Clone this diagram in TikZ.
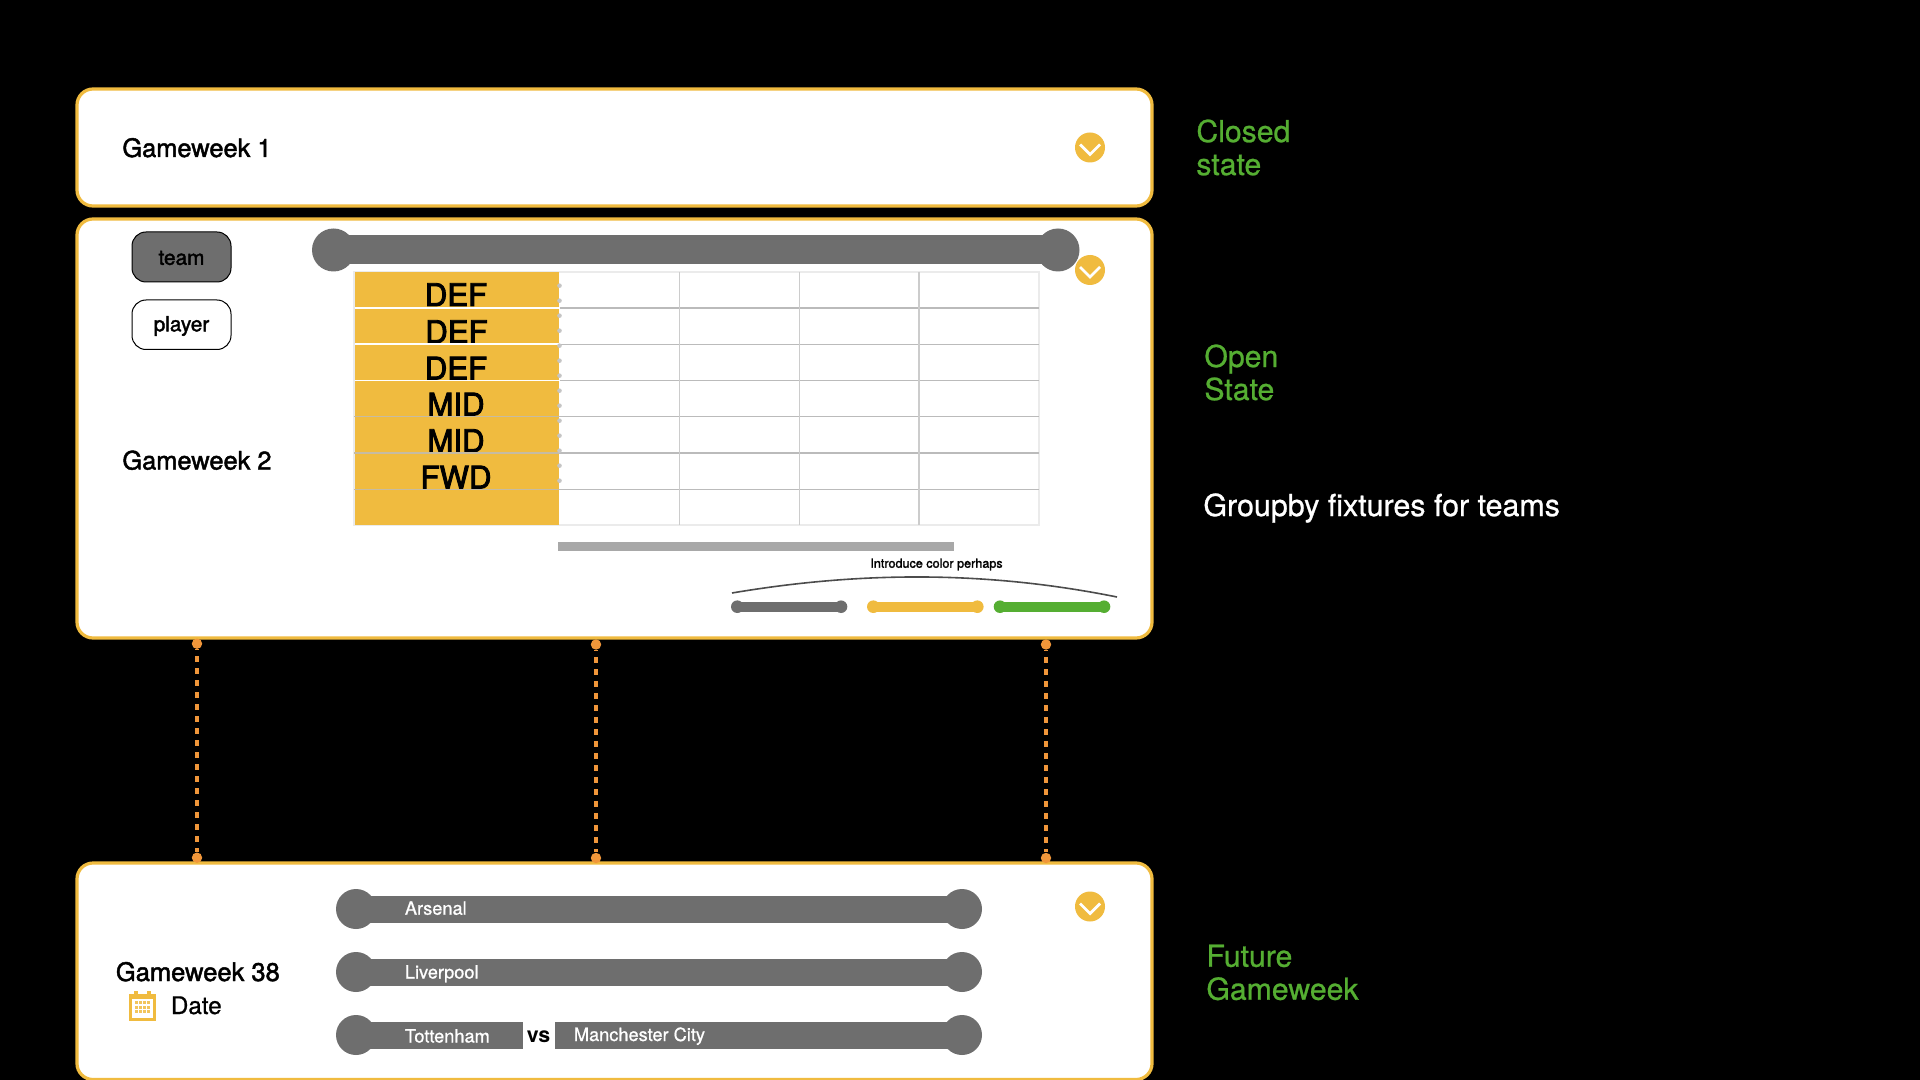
\documentclass[tikz,border=0pt]{standalone}
\usepackage{fontspec}
\setmainfont{TeX Gyre Heros}
\newfontfamily\medf[FakeBold=1.8]{TeX Gyre Heros}
\newfontfamily\posf[FakeBold=3]{TeX Gyre Heros}
\newfontfamily\litef[FakeBold=0.8]{TeX Gyre Heros}
\definecolor{amber}{HTML}{F0BB3F}
\definecolor{slategrey}{HTML}{6E6E6E}
\definecolor{leaf}{HTML}{55AE32}
\definecolor{tang}{HTML}{F0963A}
\definecolor{gridv}{HTML}{CCCCCC}
\definecolor{gridh}{HTML}{BBBBBB}
\tikzset{
  panel/.style={draw=amber,fill=white,line width=1.6pt,rounded corners=8pt},
  chip/.style={draw=black,line width=0.5pt,rounded corners=7pt},
  barfill/.style={fill=slategrey},
  knob/.style={fill=slategrey},
  cheve/.style={draw=white,line width=1.4pt},
  lbl/.style={inner sep=0pt,anchor=base west,text=black},
  gw/.style={lbl,font=\medf\fontsize{12.7}{15}\selectfont},
  posn/.style={inner sep=0pt,anchor=base,text=black,font=\posf\fontsize{15.6}{18}\selectfont},
  fixt/.style={inner sep=0pt,anchor=base west,text=white,font=\litef\fontsize{9.1}{10}\selectfont},
  sidenote/.style={inner sep=0pt,anchor=west,align=left,text=leaf,font=\litef\fontsize{15.1}{16.5}\selectfont},
  linkdot/.style={circle,fill=tang,inner sep=0pt,minimum size=5.2pt},
  dashlink/.style={draw=tang,line width=1.7pt,dash pattern=on 3pt off 3pt,dash phase=2.5pt},
  pillline/.style={line width=5pt},
  gdot/.style={fill=gridh!85!white},
}
\newcommand{\chevbtn}[2]{%
  \fill[amber] (#1,#2) circle[radius=15];
  \draw[cheve] (#1-10,#2-3) -- (#1,#2+7) -- (#1+10,#2-3);
}
\newcommand{\longbar}[4]{%
  \fill[barfill] (#1,#3-13.5) rectangle (#2,#3+13.5);
  \fill[knob] (#1,#3) circle[radius=#4];
  \fill[knob] (#2,#3) circle[radius=#4];
}
\newcommand{\pillbar}[4]{%
  \draw[#4,pillline] (#1,#3) -- (#2,#3);
  \fill[#4] (#1,#3) circle[radius=6.3];
  \fill[#4] (#2,#3) circle[radius=6.3];
}
\begin{document}
\begin{tikzpicture}[x=0.5pt,y=-0.5pt]
\fill[black] (0,0) rectangle (1920,1080);
\useasboundingbox (0,0) rectangle (1920,1080);

% panels
\draw[panel] (77,89) rectangle (1152,206);
\draw[panel] (77,219) rectangle (1152,638);
\draw[panel] (77,863) rectangle (1152,1079.5);

% panel 1
\node[gw] (gw1) at (122,157) {Gameweek 1};
\chevbtn{1090}{147.5}

% panel 2: toggles
\draw[chip,fill=slategrey] (132,232) rectangle (231,282);
\node[inner sep=0pt,font=\medf\fontsize{10.4}{12}\selectfont] (team) at (181.5,258) {team};
\draw[chip,fill=white] (132,300) rectangle (231,349.5);
\node[inner sep=0pt,font=\medf\fontsize{10.4}{12}\selectfont] (player) at (181.5,326) {player};
\node[gw] (gw2) at (122,469.5) {Gameweek 2};

% top bar
\fill[barfill] (333,235) rectangle (1058,264.5);
\fill[knob] (333.5,250) circle[radius=21.5];
\fill[knob] (1058,250) circle[radius=21.5];
\chevbtn{1090}{270}

% table
\draw[draw=black!8,line width=0.7pt] (354,272) rectangle (1039,525);
\foreach \y in {308,344.3,380.3,416.7,453,489.3}
  \draw[gridh,line width=0.65pt] (559,\y) -- (1039,\y);
\foreach \x in {679.5,799.5,919}
  \draw[gridv,line width=0.75pt] (\x,272) -- (\x,525);
\fill[amber] (354.5,272.5) rectangle (559,525);
\node[posn] (p1) at (456,306) {DEF};
\node[posn] (p2) at (456.5,343) {DEF};
\node[posn] (p3) at (456,379.5) {DEF};
\node[posn] (p4) at (456,415.5) {MID};
\node[posn] (p5) at (456,452) {MID};
\node[posn] (p6) at (456,488.5) {FWD};
\draw[white,line width=1.1pt] (355,308) -- (560,308);
\draw[white,line width=1.1pt] (355,344.3) -- (560,344.3);
\draw[white,line width=0.6pt] (355,380.3) -- (560,380.3);
\draw[gridh!80!amber,line width=0.6pt] (354,416.7) -- (559,416.7);
\draw[gridh!80!amber,line width=0.6pt] (354,453) -- (559,453);
\draw[gridh!80!amber,line width=0.6pt] (354,489.3) -- (559,489.3);
\draw[black!10,line width=0.6pt] (354.5,308) -- (354.5,344.3);
\foreach \i in {0,...,13}
  \fill[gdot] (559.5,285.7+15*\i) circle[radius=2.3];

% scroll bar and colour hint
\fill[black!34] (558,542) rectangle (954,551);
\node[inner sep=0pt,font=\medf\fontsize{6.3}{8}\selectfont] (hint) at (936.5,564.5) {Introduce color perhaps};
\coordinate (cvA) at (732,593);
\coordinate (cvB) at (1117,597);
\draw[black!70,line width=0.8pt] (cvA) .. controls (862,571) and (988,571) .. (cvB);
\pillbar{737.3}{841}{606.7}{slategrey}
\pillbar{873.3}{977.3}{606.7}{amber}
\pillbar{1000}{1104}{606.7}{leaf}

% dashed links
\node[linkdot] (a1) at (197,643.7) {};
\node[linkdot] (a2) at (197,857.7) {};
\node[linkdot] (b1) at (596,644.5) {};
\node[linkdot] (b2) at (596,858) {};
\node[linkdot] (c1) at (1046,644.5) {};
\node[linkdot] (c2) at (1046,858) {};
\draw[dashlink] (a1) -- (a2);
\draw[dashlink] (b1) -- (b2);
\draw[dashlink] (c1) -- (c2);

% panel 3
\longbar{356}{962}{909}{20}
\longbar{356}{962}{972}{20}
\longbar{356}{962}{1035}{20}
\fill[white] (522.5,1015) rectangle (555,1055);
\node[fixt] (arsenal) at (404.5,914.7) {Arsenal};
\node[fixt] (liverpool) at (404.5,978.5) {Liverpool};
\node[fixt] (tott) at (404.5,1042.5) {Tottenham};
\node[fixt] (mancity) at (573.5,1041) {Manchester City};
\node[inner sep=0pt,anchor=base,font=\bfseries\fontsize{10.7}{12}\selectfont] (vs) at (538.5,1042.7) {vs};
\chevbtn{1090}{906.5}
\node[gw,font=\medf\fontsize{12.75}{15}\selectfont] (gw38) at (115.5,981) {Gameweek 38};
\node[lbl,font=\litef\fontsize{12.1}{14}\selectfont] (date) at (170.5,1014) {Date};

% calendar icon
\fill[amber] (129,994) rectangle (156,1020.5);
\fill[amber] (134,991) rectangle (138,998);
\fill[amber] (147,991) rectangle (151,998);
\fill[white] (132,999) rectangle (153,1017.5);
\foreach \cx in {134.5,138.8,143.1,147.4}
  \foreach \cy in {1001,1005.6,1010.2}
    \fill[amber!85!white] (\cx,\cy) rectangle +(3,3);

% side notes
\node[sidenote] (n1) at (1196,147.5) {Closed\\state};
\node[sidenote] (n2) at (1204,372.5) {Open\\State};
\node[inner sep=0pt,anchor=west,text=white,font=\litef\fontsize{15.2}{18}\selectfont] (n3) at (1203,508) {Groupby fixtures for teams};
\node[sidenote] (n4) at (1206,972.5) {Future\\Gameweek};
\end{tikzpicture}
\end{document}
